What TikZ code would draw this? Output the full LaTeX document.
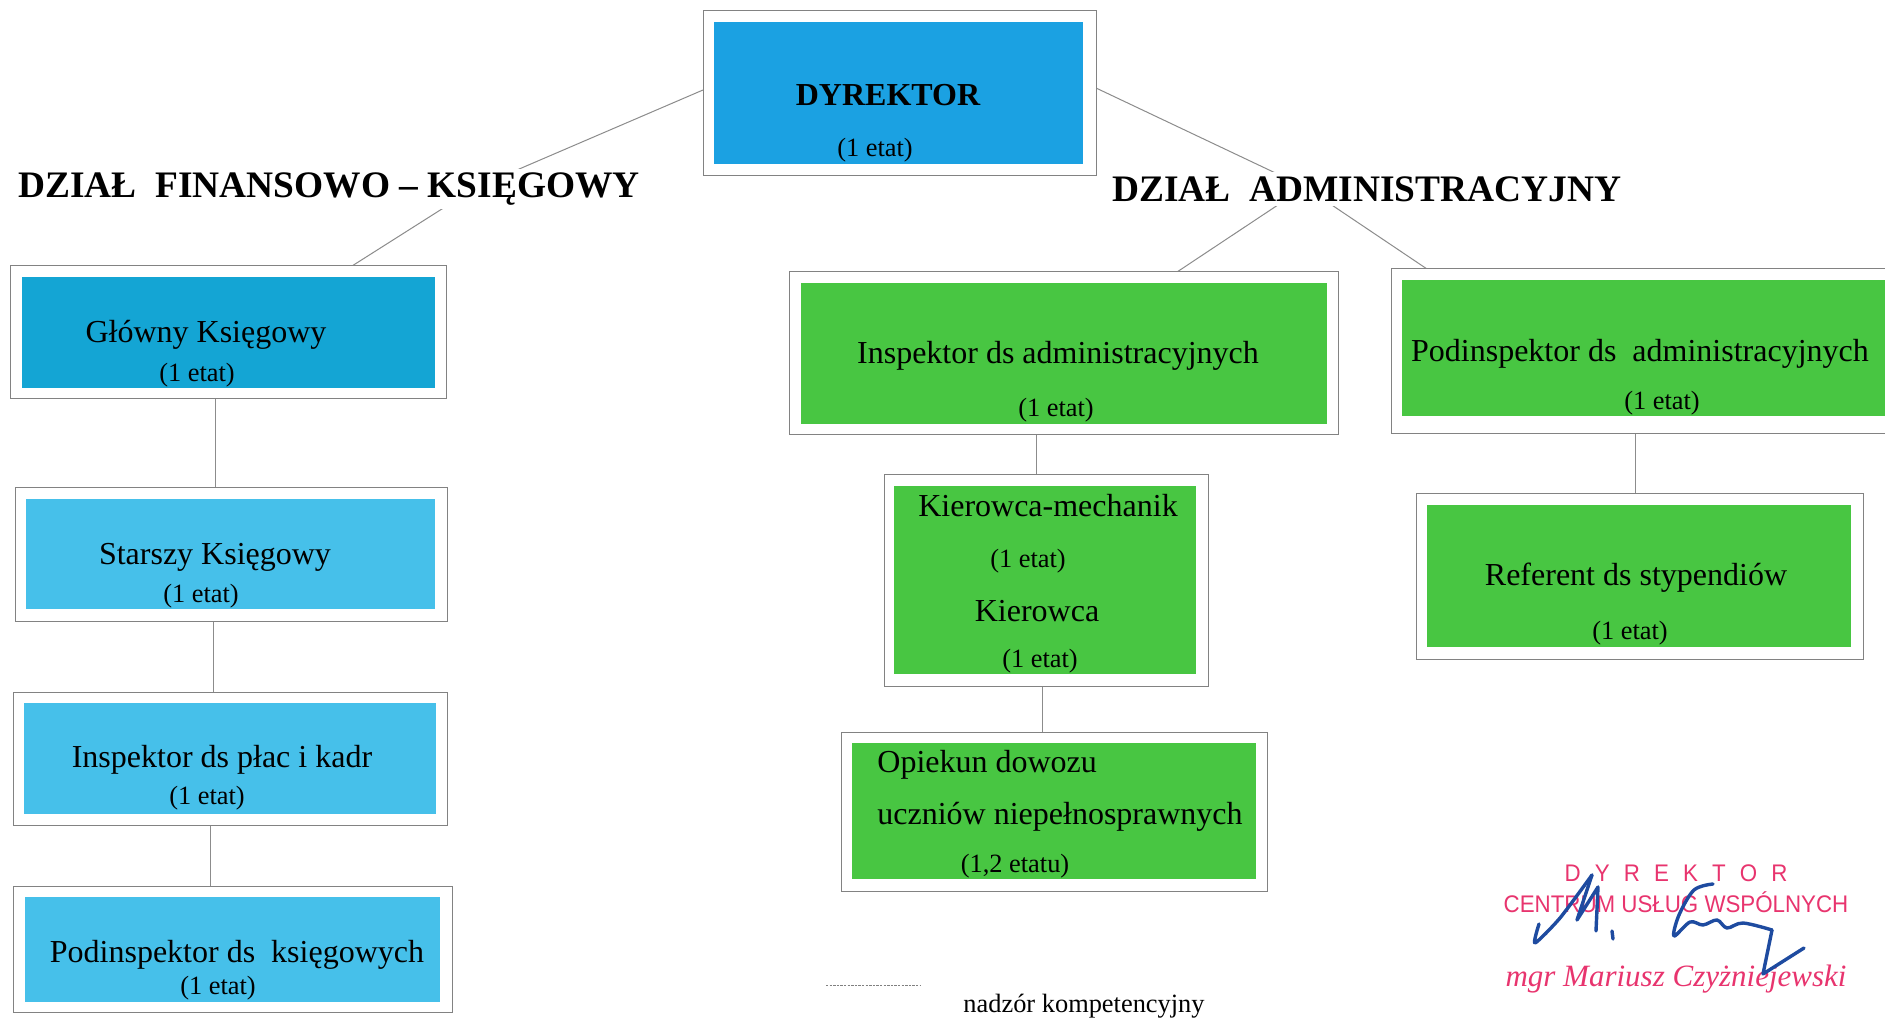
\documentclass[tikz,border=0pt]{standalone}
\usepackage{fontspec}
\setmainfont{Liberation Serif}
\newfontfamily\stampsans{Liberation Sans}
\usetikzlibrary{fit}
\definecolor{dirblue}{RGB}{27,161,226}
\definecolor{chiefblue}{RGB}{20,165,212}
\definecolor{lightblue}{RGB}{70,192,234}
\definecolor{boxgreen}{RGB}{72,198,66}
\definecolor{stampred}{RGB}{232,52,110}
\definecolor{inkblue}{RGB}{30,75,160}
\definecolor{framegray}{RGB}{130,130,130}
\definecolor{linegray}{RGB}{140,140,140}
\tikzset{
  obox/.style={draw=framegray, line width=0.5pt, fill=white, inner sep=0pt, rectangle},
  conn/.style={draw=linegray, line width=0.5pt},
  lbl/.style={font=\fontsize{16}{18}\selectfont, inner sep=0pt},
  etat/.style={font=\fontsize{13.2}{15}\selectfont, inner sep=0pt},
  hdr/.style={font=\fontsize{18.7}{20}\selectfont\bfseries, fill=white, inner xsep=0pt, inner ysep=2pt, anchor=west},
  stamp/.style={text=stampred, inner sep=0pt},
  ink/.style={draw=inkblue, line width=1.7pt, line cap=round, line join=round},
}
\begin{document}
\begin{tikzpicture}[x=0.5pt, y=-0.5pt]
\clip (0,0) rectangle (1885,1021);
\fill[white] (0,0) rectangle (1885,1021);

% ---- junction coordinates
\coordinate (jl) at (475,188);
\coordinate (jr) at (1305,187);
\coordinate (glktop) at (352,266);
\coordinate (iadtop) at (1177,272);
\coordinate (padtop) at (1427,269);
\coordinate (dyrl) at (703,90);
\coordinate (dyrr) at (1096,88);

% ---- connectors (drawn first, boxes and headers cover them)
\draw[conn] (dyrl) -- (jl) -- (glktop);
\draw[conn] (dyrr) -- (jr) -- (iadtop);
\draw[conn] (jr) -- (padtop);

% ---- DYREKTOR
\node[obox, fit={(703,11) (1096,176)}] (dyr) {};
\fill[dirblue] (714,22) rectangle (1083,164);
\node[font=\fontsize{16}{18}\selectfont\bfseries, inner sep=0pt] (dyrt) at (888,95) {DYREKTOR};
\node[etat] (dyre) at (875,150) {(1 etat)};

% ---- headers
\node[hdr] (hl) at (18,189) {DZIAŁ\ \ FINANSOWO – KSIĘGOWY};
\node[hdr] (hr) at (1112,189) {DZIAŁ\ \ ADMINISTRACYJNY};

% ---- left column
\node[obox, fit={(10,266) (446,399)}] (glk) {};
\fill[chiefblue] (22,277) rectangle (435,388);
\node[lbl] at (206,335) {Główny Księgowy};
\node[etat] at (197,375) {(1 etat)};

\node[obox, fit={(15,488) (447,621)}] (stk) {};
\fill[lightblue] (26,499) rectangle (435,609);
\node[lbl] at (215,557) {Starszy Księgowy};
\node[etat] at (201,596) {(1 etat)};

\node[obox, fit={(13,692) (447,825)}] (ipk) {};
\fill[lightblue] (24,703) rectangle (436,814);
\node[lbl] at (222,760) {Inspektor ds płac i kadr};
\node[etat] at (207,798) {(1 etat)};

\node[obox, fit={(13,886) (452,1012)}] (pdk) {};
\fill[lightblue] (25,897) rectangle (440,1002);
\node[lbl] at (237,955) {Podinspektor ds\ \ księgowych};
\node[etat] at (218,988) {(1 etat)};

\coordinate (c1) at (215,0);
\coordinate (c2) at (213,0);
\coordinate (c3) at (210,0);
\draw[conn] (glk.south -| c1) -- (stk.north -| c1);
\draw[conn] (stk.south -| c2) -- (ipk.north -| c2);
\draw[conn] (ipk.south -| c3) -- (pdk.north -| c3);

% ---- middle column
\node[obox, fit={(789,272) (1338,435)}] (iad) {};
\fill[boxgreen] (801,283) rectangle (1327,424);
\node[lbl] at (1058,356) {Inspektor ds administracyjnych};
\node[etat] at (1056,410) {(1 etat)};

\node[obox, fit={(884,475) (1208,686)}] (kie) {};
\fill[boxgreen] (894,486) rectangle (1196,674);
\node[lbl] at (1048,506) {Kierowca-mechanik};
\node[etat] at (1028,561) {(1 etat)};
\node[lbl] at (1037,611) {Kierowca};
\node[etat] at (1040,661) {(1 etat)};

\node[obox, fit={(841,732) (1267,891)}] (opi) {};
\fill[boxgreen] (852,743) rectangle (1256,879);
\node[lbl, anchor=west] at (877,765) {Opiekun dowozu};
\node[lbl, anchor=west] at (877,817) {uczniów niepełnosprawnych};
\node[etat] at (1015,866) {(1,2 etatu)};

\coordinate (c4) at (1036,0);
\coordinate (c5) at (1042,0);
\draw[conn] (iad.south -| c4) -- (kie.north -| c4);
\draw[conn] (kie.south -| c5) -- (opi.north -| c5);

% ---- right column
\node[obox, fit={(1391,269) (1900,434)}] (pad) {};
\fill[boxgreen] (1402,280) rectangle (1900,416);
\node[lbl] at (1640,354) {Podinspektor ds\ \ administracyjnych};
\node[etat] at (1662,403) {(1 etat)};

\node[obox, fit={(1416,494) (1863,659)}] (ref) {};
\fill[boxgreen] (1427,505) rectangle (1851,647);
\node[lbl] at (1636,578) {Referent ds stypendiów};
\node[etat] at (1630,633) {(1 etat)};

\coordinate (c6) at (1635,0);
\draw[conn] (pad.south -| c6) -- (ref.north -| c6);

% ---- legend
\coordinate (lg1) at (826,985);
\coordinate (lg2) at (920,985);
\draw[draw=gray, line width=0.5pt, dash pattern=on 1.2pt off 0.6pt] (lg1) -- (lg2);
\node[etat] (lgt) at (1084,1006) {nadzór kompetencyjny};

% ---- stamp
\node[stamp, font=\stampsans\fontsize{12}{14}\selectfont] (st1) at (1676,873)
  {\scalebox{0.93}[1]{D\kern7.6pt Y\kern7.6pt R\kern7.6pt E\kern7.6pt K\kern7.6pt T\kern7.6pt O\kern7.6pt R}};
\node[stamp, font=\stampsans\fontsize{12}{14}\selectfont] (st2) at (1676,902)
  {\scalebox{0.93}[1]{CENTRUM USŁUG WSPÓLNYCH}};
\node[stamp, font=\fontsize{15.5}{17}\selectfont\itshape] (st3) at (1676,979)
  {mgr Mariusz Czyżniejewski};

% ---- signature
\draw[ink] plot[smooth, tension=0.4] coordinates {(1539,924) (1535,943) (1560,918) (1592,875)};
\draw[ink] (1592,875) -- (1577,920) -- (1598,887) -- (1596,931);
\draw[ink] (1612,931) -- (1613,939);
\draw[ink] plot[smooth, tension=0.55] coordinates {(1713,884) (1694,890) (1679,915) (1674,936) (1690,922) (1703,925) (1717,920) (1727,928) (1743,923) (1772,930)};
\draw[ink] (1772,930) -- (1763,974) -- (1804,948);
\end{tikzpicture}
\end{document}
